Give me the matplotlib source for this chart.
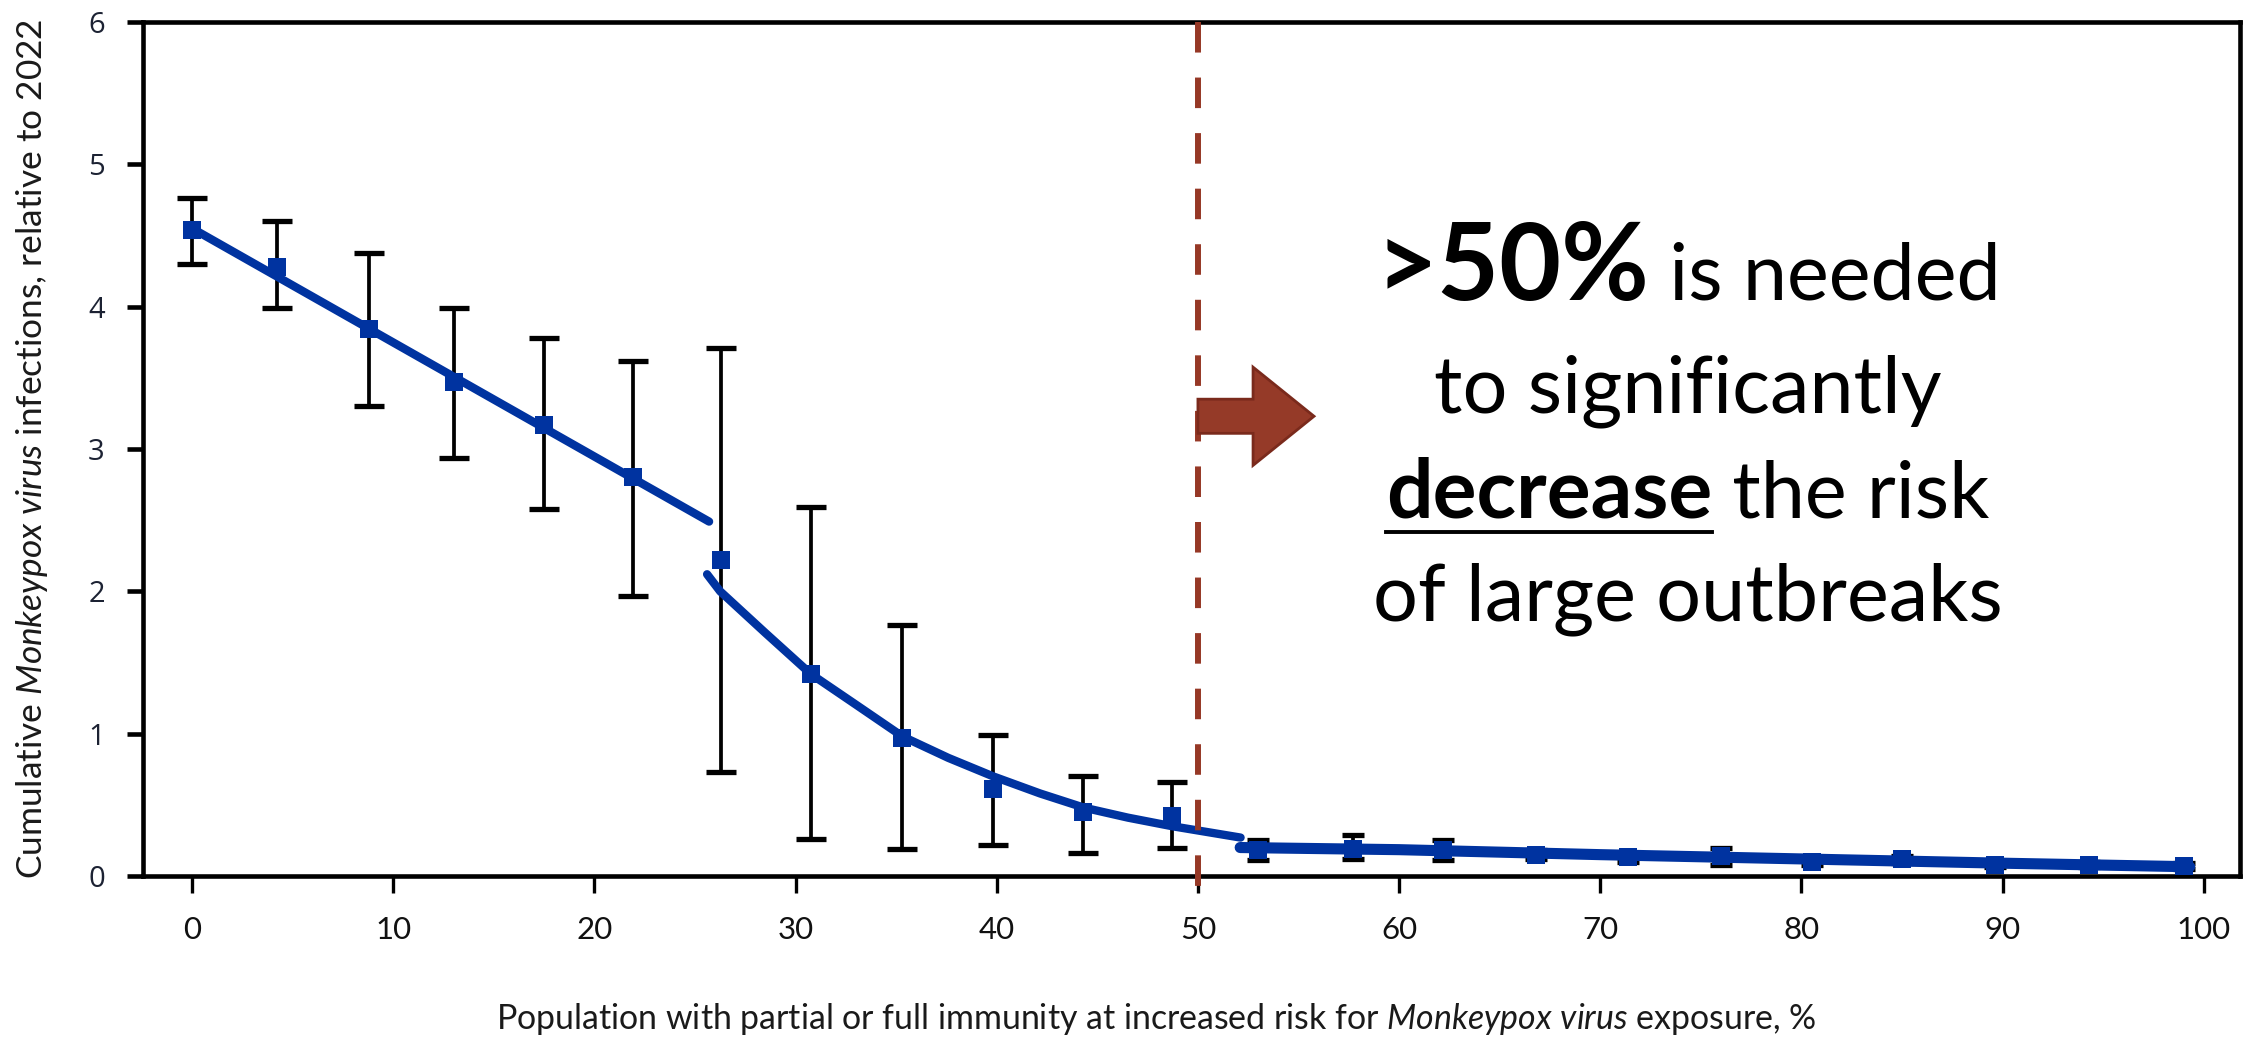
import numpy as np
import matplotlib.pyplot as plt
from matplotlib.patches import FancyArrow
from matplotlib.lines import Line2D

plt.rcParams['font.family'] = ['Lato', 'DejaVu Sans']
plt.rcParams['mathtext.fontset'] = 'custom'
plt.rcParams['mathtext.rm'] = 'Lato'
plt.rcParams['mathtext.it'] = 'Lato:italic'
plt.rcParams['lines.scale_dashes'] = False

# population immune (%) and cumulative infections relative to 2022
pct = [0, 4.2, 8.8, 13.0, 17.5, 21.9, 26.3, 30.75, 35.3, 39.8, 44.3, 48.7,
       53.0, 57.7, 62.2, 66.8, 71.4, 76.0, 80.5, 85.0, 89.6, 94.3, 99.0]
infections = [4.54, 4.28, 3.84, 3.47, 3.17, 2.80, 2.22, 1.42, 0.97, 0.61, 0.45, 0.42,
              0.18, 0.19, 0.18, 0.15, 0.13, 0.14, 0.10, 0.12, 0.08, 0.08, 0.07]
ci_low = [4.30, 3.99, 3.30, 2.94, 2.58, 1.97, 0.73, 0.26, 0.19, 0.22, 0.16, 0.20,
          0.11, 0.12, 0.11, 0.12, 0.10, 0.08, 0.08, 0.09, 0.06, 0.06, 0.05]
ci_high = [4.76, 4.60, 4.38, 3.99, 3.78, 3.62, 3.71, 2.59, 1.76, 0.99, 0.70, 0.66,
           0.25, 0.29, 0.25, 0.18, 0.16, 0.20, 0.13, 0.14, 0.10, 0.10, 0.09]

# fitted curves (three regimes)
fit1_x = [0, 25.7]
fit1_y = [4.55, 2.49]
fit2_x = [25.6, 26.25, 28.48, 30.75, 33.04, 35.32, 37.59, 39.82, 42.15, 44.34, 46.52, 48.71, 52.12]
fit2_y = [2.12, 2.00, 1.71, 1.42, 1.20, 0.98, 0.83, 0.70, 0.58, 0.48, 0.41, 0.35, 0.27]
fit3_x = [52.1, 60, 70, 80, 90, 99.3]
fit3_y = [0.20, 0.185, 0.15, 0.12, 0.09, 0.065]

threshold = 50

blue = '#0033A0'
red = '#963826'

W, H = 2256, 1038
fig = plt.figure(figsize=(W/100, H/100), dpi=100)
ax = fig.add_axes([143/W, 1-876/H, (2240-143)/W, (876-22)/H])

pct = np.array(pct)
infections = np.array(infections)
err = np.array([infections - np.array(ci_low), np.array(ci_high) - infections])

n1 = 12
ax.errorbar(pct[:n1], infections[:n1], yerr=err[:, :n1], fmt='none', ecolor='black',
            elinewidth=2.7, capsize=10.5, capthick=3.8, zorder=2)
ax.errorbar(pct[n1:], infections[n1:], yerr=err[:, n1:], fmt='none', ecolor='black',
            elinewidth=2.7, capsize=8, capthick=3.8, zorder=2)

ax.plot(fit1_x, fit1_y, color=blue, lw=6, solid_capstyle='round', zorder=3)
ax.plot(fit2_x, fit2_y, color=blue, lw=6, solid_capstyle='round', zorder=3)
ax.plot(fit3_x, fit3_y, color=blue, lw=8, solid_capstyle='round', zorder=3)
ax.plot(pct, infections, 's', color=blue, ms=13, mew=0, zorder=4)

# threshold line
ax.plot([threshold, threshold], [6, -0.135], color=red, lw=4.3, dashes=(22, 18),
        clip_on=False, zorder=5)
ax.add_patch(FancyArrow(threshold, 3.23, 5.77, 0, width=0.24, head_width=0.69,
                        head_length=3.03, length_includes_head=True,
                        facecolor='#953A28', edgecolor='#7A2A1C', lw=2, zorder=6))

ax.set_xlim(-2.44, 101.8)
ax.set_ylim(0, 6)
ax.set_xticks(range(0, 101, 10))
ax.set_yticks(range(0, 7))
for s in ax.spines.values():
    s.set_linewidth(3.3)
ax.tick_params(axis='y', direction='out', length=11.5, width=3.3, pad=16,
               labelsize=21, labelcolor='#1c2233')
ax.tick_params(axis='x', direction='out', length=12, width=2.4, pad=17,
               labelsize=22.5, labelcolor='#111111')
for lbl in ax.get_yticklabels():
    lbl.set_fontfamily(['Open Sans', 'DejaVu Sans'])

ax.set_ylabel(r'Cumulative $\mathit{Monkeypox\ virus}$ infections, relative to 2022',
              fontsize=27, color='#1a1a1a', va='center')
ax.yaxis.set_label_coords((32-143)/2097, 0.5)
ax.set_xlabel(r'Population with partial or full immunity at increased risk for '
              r'$\mathit{Monkeypox\ virus}$ exposure, %', fontsize=27, color='#1a1a1a', va='center')
ax.xaxis.set_label_coords((1156-143)/2097, (876-1019)/854)

fig.canvas.draw()
r = fig.canvas.get_renderer()

# scale the axis titles to the span they take in the original
for t, span in [(ax.yaxis.label, 862), (ax.xaxis.label, 1320)]:
    bb = t.get_window_extent(r)
    t.set_fontsize(t.get_fontsize() * span / max(bb.width, bb.height))

# annotation text, centred lines with mixed weights
lines = [
    [('>50%', 'bold', 77), (' is needed', 'normal', 57)],
    [('to significantly', 'normal', 57)],
    [('decrease', 'bold', 59), (' the risk', 'normal', 57)],
    [('of large outbreaks', 'normal', 57)],
]
baselines = [300, 412, 517, 620]
xc = 1688

under = None
for parts, yb in zip(lines, baselines):
    objs = [fig.text(0, 1-yb/H, s, fontsize=sz, fontweight=w, family=['Lato', 'DejaVu Sans'],
                     va='baseline', ha='left') for s, w, sz in parts]
    widths = [t.get_window_extent(r).width for t in objs]
    x = xc - sum(widths)/2
    for t, wd, (s, _, _) in zip(objs, widths, parts):
        t.set_x(x/W)
        if s == 'decrease':
            under = (x, x + wd, yb)
        x += wd

x0, x1, yb = under
fig.add_artist(Line2D([x0/W, x1/W], [1-(yb+15)/H, 1-(yb+15)/H], color='black', lw=2.8,
                      transform=fig.transFigure))

fig.savefig('out.png', dpi=100, facecolor='white')
